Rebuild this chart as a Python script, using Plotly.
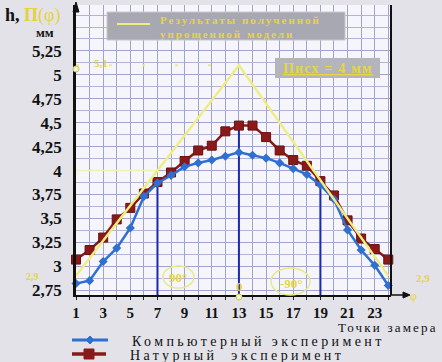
import plotly.graph_objects as go

points = list(range(1, 25))
computer = [2.82, 2.85, 3.05, 3.19, 3.40, 3.73, 3.87, 3.95, 4.04, 4.08, 4.11, 4.15,
            4.19, 4.16, 4.13, 4.08, 4.02, 3.96, 3.85, 3.70, 3.38, 3.17, 3.01, 2.80]
natural = [3.07, 3.17, 3.30, 3.49, 3.61, 3.76, 3.88, 3.98, 4.10, 4.21, 4.26, 4.41,
           4.47, 4.47, 4.35, 4.21, 4.11, 4.05, 3.89, 3.74, 3.48, 3.29, 3.18, 3.07]
model_x = [1, 13, 24]
model_y = [2.9, 5.1, 2.9]
angle_points = [7, 13, 19]
angle_tops = [3.88, 4.47, 3.88]
xtick_vals = [1, 3, 5, 7, 9, 11, 13, 15, 17, 19, 21, 23]
ytick_vals = [2.75, 3.0, 3.25, 3.5, 3.75, 4.0, 4.25, 4.5, 4.75, 5.0, 5.25]
ytick_text = ["2,75", "3", "3,25", "3,5", "3,75", "4", "4,25", "4,5", "4,75", "5", "5,25"]

BLUE = "#2f6fd0"
RED = "#8a1a1a"
YEL = "#eeee80"
YEL_T = "#e6d640"
SERIF = "Liberation Serif"

fig = go.Figure()

# vertical guide lines
for xv, top in zip(angle_points, angle_tops):
    fig.add_trace(go.Scatter(x=[xv, xv], y=[2.7, top], mode="lines",
                             line=dict(color="#1a2aa8", width=2), showlegend=False,
                             hoverinfo="skip"))
# yellow helper lines
fig.add_trace(go.Scatter(x=[1, 7], y=[4, 4], mode="lines",
                         line=dict(color="#f2f2b0", width=1.5), showlegend=False))
fig.add_trace(go.Scatter(x=[1, 13], y=[5.1, 5.1], mode="lines",
                         line=dict(color="#eaea90", width=2, dash="3px,30px"),
                         showlegend=False))

fig.add_trace(go.Scatter(x=points, y=natural, mode="lines+markers", name="Натурный эксперимент",
                         line=dict(color=RED, width=2.5),
                         marker=dict(symbol="square", size=9, color=RED,
                                     line=dict(color="#6a1010", width=1)),
                         cliponaxis=False, showlegend=False))
fig.add_trace(go.Scatter(x=points, y=computer, mode="lines+markers", name="Компьютерный эксперимент",
                         line=dict(color=BLUE, width=2.5),
                         marker=dict(symbol="diamond", size=7, color=BLUE),
                         cliponaxis=False, showlegend=False))
fig.add_trace(go.Scatter(x=model_x, y=model_y, mode="lines",
                         name="Результаты полученной упрощенной модели",
                         line=dict(color=YEL, width=2.5), cliponaxis=False, showlegend=False))

fig.update_layout(
    width=442, height=362,
    margin=dict(l=76, r=51, t=5, b=67),
    paper_bgcolor="#e2e2e8",
    plot_bgcolor="#f5f5fb",
    font=dict(family=SERIF, color="#111"),
    showlegend=False,
)
fig.update_xaxes(range=[1, 24.2], tickvals=xtick_vals, ticks="outside", ticklen=3,
                 tickcolor="#222", tickfont=dict(size=15, family=SERIF, color="#111", weight="bold"),
                 showgrid=True, gridcolor="#9ea4cc", gridwidth=1.2,
                 minor=dict(dtick=1, showgrid=True, gridcolor="#9ea4cc", ticks="outside",
                            ticklen=3, tickcolor="#222"),
                 showline=True, linecolor="#111", linewidth=2, zeroline=False)
fig.update_yaxes(range=[2.7, 5.73], tickvals=ytick_vals, ticktext=ytick_text,
                 tickfont=dict(size=17, family=SERIF, color="#111", weight="bold"),
                 ticklabelstandoff=8,
                 showgrid=True, gridcolor="#9ea4cc", gridwidth=1.2,
                 minor=dict(dtick=0.125, tick0=2.75, showgrid=True, gridcolor="#b0b5d6"),
                 showline=True, linecolor="#111", linewidth=2.5, zeroline=False)


def px(xp):
    return (xp - 76) / 315


def py(yp):
    return 1 - (yp - 5) / 290


shapes = [
    # right border
    dict(type="line", xref="paper", yref="paper", x0=1, x1=1, y0=0, y1=1,
         line=dict(color="#111", width=2)),
    # top legend box
    dict(type="rect", xref="paper", yref="paper",
         x0=px(107), x1=px(345), y0=py(40), y1=py(12),
         fillcolor="#a8a8b2", line=dict(color="#c8c8cc", width=1)),
    dict(type="line", xref="paper", yref="paper",
         x0=px(117), x1=px(150), y0=py(24), y1=py(24),
         line=dict(color=YEL, width=2)),
    # П box
    dict(type="rect", xref="paper", yref="paper",
         x0=px(275), x1=px(380), y0=py(78), y1=py(58),
         fillcolor="#b4b4bc", line=dict(width=0)),
    # bottom legend symbols
    dict(type="line", xref="paper", yref="paper", x0=px(72), x1=px(108), y0=py(340), y1=py(340),
         line=dict(color=BLUE, width=3)),
    dict(type="path", xref="paper", yref="paper",
         path=f"M {px(90)} {py(336)} L {px(94)} {py(340)} L {px(90)} {py(344)} L {px(86)} {py(340)} Z",
         fillcolor=BLUE, line=dict(color=BLUE, width=1)),
    dict(type="line", xref="paper", yref="paper", x0=px(72), x1=px(106), y0=py(354), y1=py(354),
         line=dict(color=RED, width=3.5)),
    dict(type="rect", xref="paper", yref="paper", x0=px(84), x1=px(94), y0=py(359), y1=py(349),
         fillcolor=RED, line=dict(color=RED, width=1)),
    # x axis arrow toward φ
    dict(type="path", xref="paper", yref="paper",
         path=f"M {px(391)} {py(295)} L {px(408)} {py(295)}",
         line=dict(color="#111", width=1.5)),
    dict(type="path", xref="paper", yref="paper",
         path=f"M {px(403)} {py(292)} L {px(410)} {py(295)} L {px(403)} {py(298)} Z",
         fillcolor="#111", line=dict(color="#111", width=1)),
    # y axis arrow
    dict(type="path", xref="paper", yref="paper",
         path=f"M {px(73)} {py(12)} L {px(76)} {py(2)} L {px(79)} {py(12)} Z",
         fillcolor="#111", line=dict(color="#111", width=1)),
    # small yellow marker circle at 5,1 on axis
    dict(type="circle", xref="paper", yref="paper", x0=px(73), x1=px(79), y0=py(72), y1=py(66),
         fillcolor="#f4f4c0", line=dict(color="#c8c070", width=1)),
    # small yellow mark under 0
    dict(type="circle", xref="paper", yref="paper", x0=px(236), x1=px(242), y0=py(300), y1=py(294),
         fillcolor="#f4f4c0", line=dict(color="#c8c070", width=1)),
    # ellipses around angles
    dict(type="circle", xref="paper", yref="paper", x0=px(163), x1=px(194), y0=py(288), y1=py(266),
         line=dict(color="#e8e890", width=1.5)),
    dict(type="circle", xref="paper", yref="paper", x0=px(271), x1=px(310), y0=py(295), y1=py(268),
         line=dict(color="#e8e890", width=1.5)),
]
fig.update_layout(shapes=shapes)


def ann(x, y, text, size, color="#111", xanchor="left", **kw):
    fig.add_annotation(xref="paper", yref="paper", x=px(x), y=py(y), text=text, showarrow=False,
                       xanchor=xanchor, yanchor="middle",
                       font=dict(size=size, family=SERIF, color=color), **kw)


SP = "<span style='letter-spacing:{}px'>{}</span>"
ann(3, 16, "<b>h,</b> <span style='color:#e6d23a'><b>П</b>(φ)</span>", 18)
ann(34, 33, "<b>мм</b>", 13)
ann(158, 27, "<b>" + SP.format(2, "Результаты полученной") + "<br>"
    + SP.format(2, "упрощенной модели") + "</b>", 11, color=YEL_T, align="left")
ann(281, 68, "<b><u>" + SP.format(1.2, "Писх = 4 мм") + "</u></b>", 14, color=YEL_T)
ann(92, 63, "<b>5,1</b>", 11, color=YEL_T)
ann(24, 276, "<b>2,9</b>", 10, color=YEL_T)
ann(414, 278, "<b>2,9</b>", 11, color=YEL_T)
ann(408, 296, "φ", 12, color=YEL_T)
ann(239, 286, "<b>0</b>", 13, color=YEL_T, xanchor="center")
ann(178, 277, "<b>90°</b>", 13, color=YEL_T, xanchor="center")
ann(291, 283, "<b>-90°</b>", 13, color=YEL_T, xanchor="center")
ann(440, 327.5, SP.format(2.2, "Точки замера"), 13, xanchor="right")
ann(130, 341, SP.format(3.4, "Компьютерный эксперимент"), 14)
ann(128, 355, SP.format(3.4, "Натурный  эксперимент"), 14)

fig.write_html("out.html", post_script="document.body.style.margin='0';",
               config={"displayModeBar": False})
